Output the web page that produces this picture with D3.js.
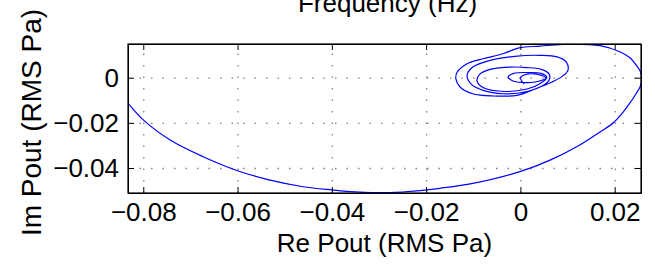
<!DOCTYPE html>
<html>
<head>
<meta charset="utf-8">
<script src="https://cdn.jsdelivr.net/npm/d3@7"></script>
<style>
  body { margin: 0; background: #fff; }
  text { font-family: "Liberation Sans", Arial, Helvetica, sans-serif; }
</style>
</head>
<body>
<div id="chart-area"></div>
<script>

// DATA
// =====

var reVals = [
    -0.0856, -0.0834, -0.0800, -0.0743, -0.0673, -0.0600, -0.0531, -0.0461,
    -0.0399, -0.0341, -0.0277, -0.0213, -0.0171, -0.0101, -0.0001, 0.0063,
    0.0126, 0.0169, 0.0196, 0.0218, 0.0232, 0.0245, 0.0254, 0.0257,
    0.0255, 0.0247, 0.0233, 0.0211, 0.0169, 0.0112, 0.0042, -0.0003,
    -0.0037, -0.0079, -0.0113, -0.0134, -0.0137, -0.0128, -0.0101, -0.0058,
    -0.0007, 0.0031, 0.0067, 0.0090, 0.0101, 0.0097, 0.0078, 0.0042,
    -0.0007, -0.0064, -0.0101, -0.0113, -0.0105, -0.0079, -0.0037, 0.0014,
    0.0046, 0.0061, 0.0061, 0.0046, 0.0014, -0.0022, -0.0060, -0.0086,
    -0.0092, -0.0077, -0.0033, 0.0014, 0.0044, 0.0056, 0.0044, 0.0014,
    -0.0014, -0.0026, -0.0018, 0.0003, 0.0031, 0.0054, 0.0035, 0.0008,
    0.0000, 0.0008
];
var imVals = [
    -0.0059, -0.0109, -0.0187, -0.0276, -0.0350, -0.0412, -0.0454, -0.0483,
    -0.0497, -0.0507, -0.0509, -0.0500, -0.0490, -0.0468, -0.0416, -0.0365,
    -0.0298, -0.0240, -0.0202, -0.0152, -0.0113, -0.0072, -0.0040, -0.0006,
    0.0025, 0.0052, 0.0087, 0.0115, 0.0142, 0.0149, 0.0140, 0.0132,
    0.0106, 0.0084, 0.0062, 0.0025, -0.0004, -0.0041, -0.0071, -0.0081,
    -0.0078, -0.0050, -0.0019, 0.0008, 0.0034, 0.0070, 0.0092, 0.0099,
    0.0096, 0.0077, 0.0047, 0.0011, -0.0027, -0.0056, -0.0071, -0.0061,
    -0.0037, -0.0010, 0.0016, 0.0036, 0.0045, 0.0047, 0.0039, 0.0016,
    -0.0015, -0.0046, -0.0061, -0.0050, -0.0023, 0.0001, 0.0019, 0.0023,
    0.0019, 0.0003, -0.0012, -0.0021, -0.0019, -0.0001, 0.0016, 0.0012,
    -0.0001, -0.0028
];

var xTicks = [-0.08, -0.06, -0.04, -0.02, 0, 0.02];
var yTicks = [-0.04, -0.02, 0];
var xDomain = [-0.08324, 0.02558];
var yDomain = [-0.05107, 0.01493];

var points = reVals.map(function (d, i) { return [d, imVals[i]]; });


// CANVAS + MARGINS
// =================

var margin = { left: 128, right: 14, top: 44, bottom: 74 };
var width = 655 - margin.left - margin.right,
    height = 267 - margin.top - margin.bottom;
var fs = '26px';

var svg = d3.select('#chart-area')
    .append('svg')
        .attr('width', 655)
        .attr('height', 267);

var g = svg.append('g')
    .attr('transform', 'translate(' + margin.left + ',' + margin.top + ')');

var x = d3.scaleLinear().domain(xDomain).range([0, width]);
var y = d3.scaleLinear().domain(yDomain).range([height, 0]);

function fmt(d) {
    return d === 0 ? '0' : d3.format('.2f')(d).replace('-', '\u2212');
}


// GRID
// =====

g.append('g')
    .attr('class', 'grid')
    .attr('transform', 'translate(0,' + height + ')')
    .call(d3.axisBottom(x).tickValues(xTicks).tickSize(-height).tickFormat(''));
g.append('g')
    .attr('class', 'grid')
    .call(d3.axisLeft(y).tickValues(yTicks).tickSize(-width).tickFormat(''));
g.selectAll('.grid .domain').remove();
g.selectAll('.grid line')
    .attr('stroke', '#808080')
    .attr('stroke-width', 1.3)
    .attr('stroke-dasharray', '1.5,10');


// CURVE
// ======

svg.append('clipPath')
    .attr('id', 'clip')
    .append('rect')
        .attr('width', width)
        .attr('height', height);

g.append('path')
    .datum(points)
    .attr('clip-path', 'url(#clip)')
    .attr('fill', 'none')
    .attr('stroke', '#0000ff')
    .attr('stroke-width', 1.2)
    .attr('d', d3.line()
        .x(function (d) { return x(d[0]); })
        .y(function (d) { return y(d[1]); })
        .curve(d3.curveCatmullRom.alpha(0.5)));


// AXES (ticks inside, MATLAB box)
// ================================

var tk = 6;

var xAxis = g.append('g')
    .attr('transform', 'translate(0,' + height + ')')
    .call(d3.axisBottom(x).tickValues(xTicks).tickSizeInner(-tk).tickSizeOuter(0)
        .tickPadding(10).tickFormat(fmt));
g.append('g')
    .call(d3.axisTop(x).tickValues(xTicks).tickSizeInner(-tk).tickSizeOuter(0).tickFormat(''));
var yAxis = g.append('g')
    .call(d3.axisLeft(y).tickValues(yTicks).tickSizeInner(-tk).tickSizeOuter(0)
        .tickPadding(9).tickFormat(fmt));
g.append('g')
    .attr('transform', 'translate(' + width + ',0)')
    .call(d3.axisRight(y).tickValues(yTicks).tickSizeInner(-tk).tickSizeOuter(0).tickFormat(''));

g.selectAll('.domain').attr('stroke', '#000');
g.selectAll('.tick line').filter(function () { return !this.closest('.grid'); })
    .attr('stroke', '#000');

xAxis.selectAll('text')
    .attr('font-size', fs)
    .attr('fill', '#000');
yAxis.selectAll('text')
    .attr('font-size', fs)
    .attr('fill', '#000');

g.append('rect')
    .attr('width', width)
    .attr('height', height)
    .attr('fill', 'none')
    .attr('stroke', '#000')
    .attr('stroke-width', 1.2);


// LABELS
// =======

g.append('text')
    .attr('x', width / 2)
    .attr('y', height + 59)
    .attr('font-size', fs)
    .attr('text-anchor', 'middle')
    .text('Re Pout (RMS Pa)');

g.append('text')
    .attr('x', -(height / 2) - 4)
    .attr('y', -87)
    .attr('font-size', '28px')
    .attr('text-anchor', 'middle')
    .attr('transform', 'rotate(-90)')
    .text('Im Pout (RMS Pa)');

g.append('text')
    .attr('x', width / 2 + 3)
    .attr('y', -margin.top + 12)
    .attr('font-size', fs)
    .attr('text-anchor', 'middle')
    .text('Frequency (Hz)');

</script>
</body>
</html>
